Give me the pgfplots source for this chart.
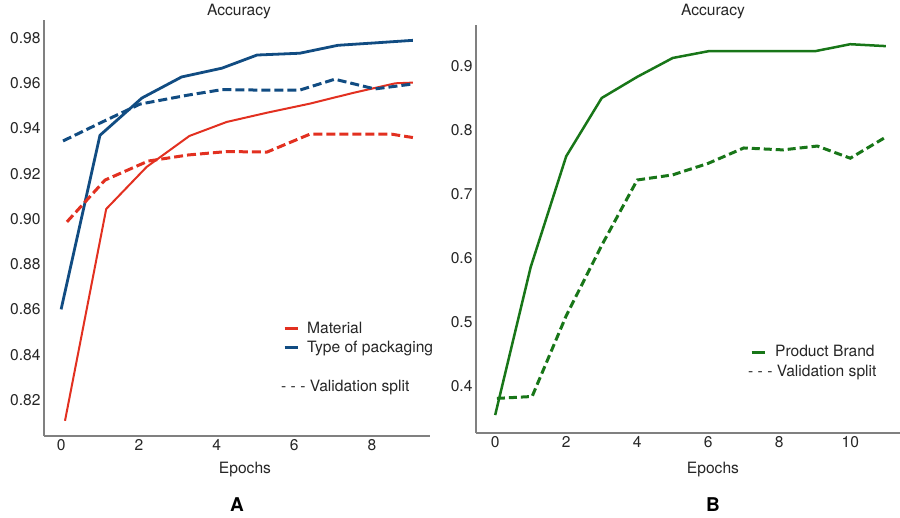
\documentclass[border=0pt]{standalone}
\usepackage{fontspec}
\setmainfont{TeX Gyre Heros}
\usepackage{pgfplots}
\pgfplotsset{compat=1.18}
\definecolor{cred}{RGB}{226,48,32}
\definecolor{cblue}{RGB}{17,76,130}
\definecolor{cgreen}{RGB}{24,118,24}
\definecolor{cax}{RGB}{128,128,128}
\newcommand{\fs}{\fontsize{15.6}{18}\selectfont}
\pgfplotsset{mystyle/.style={
  scale only axis, axis lines=left,
  axis line style={-, cax, line width=1.5pt},
  major tick length=0pt,
  tick label style={font=\fs, text=black!85},
  /pgf/number format/assume math mode=true,
  clip=false,
  legend style={draw=none, fill=none, font=\fs, inner sep=0pt, nodes={inner sep=0pt, text=black!85}, column sep=8pt, row sep=6pt},
  legend cell align=left,
  legend image code/.code={\draw[#1, line width=3pt] (0pt,0pt) -- (13pt,0pt);},
}}
\begin{document}
\begin{tikzpicture}
\path[use as bounding box] (0,0) rectangle (900pt,518pt);
% Left axis
\begin{axis}[mystyle, at={(44pt,82pt)}, anchor=south west,
  width=386pt, height=416pt,
  xmin=-0.44, xmax=9.49, ymin=0.804, ymax=0.988,
  xtick={0,2,4,6,8}, ytick={0.82,0.84,0.86,0.88,0.90,0.92,0.94,0.96,0.98},
  yticklabel style={/pgf/number format/fixed, /pgf/number format/precision=2, /pgf/number format/fixed zerofill},
  legend style={at={(axis description cs:0.619,0.2356)}, anchor=west},
]
\addplot[cred, line width=2pt] coordinates {(0.1,0.8107)(1.16,0.9044)(2.2,0.923)(3.3,0.9367)(4.26,0.9429)(5.3,0.9470)(6.4,0.951)(7.5,0.9557)(8.6,0.9600)(9.05,0.9603)};
\addlegendentry{Material}
\addplot[cblue, line width=2.8pt] coordinates {(0,0.860)(1.0,0.937)(2.08,0.9535)(3.1,0.9628)(4.14,0.9667)(5.04,0.9725)(6.14,0.9733)(7.12,0.9768)(8.1,0.9779)(9.05,0.979)};
\addlegendentry{Type of packaging}
\addplot[cred, line width=3pt, dash pattern=on 9pt off 4pt, forget plot] coordinates {(0.15,0.8987)(1.13,0.9172)(2.24,0.9256)(3.27,0.9283)(4.26,0.9298)(5.3,0.9296)(6.4,0.9375)(7.5,0.9375)(8.5,0.9375)(9.05,0.9360)};
\addplot[cblue, line width=3pt, dash pattern=on 9pt off 4pt, forget plot] coordinates {(0.05,0.9345)(1.0,0.9424)(2.03,0.9508)(3.24,0.9547)(4.14,0.9572)(5.1,0.9570)(6.14,0.9570)(7.04,0.9618)(8.07,0.9575)(9.05,0.9597)};
\end{axis}
% Right axis
\begin{axis}[mystyle, at={(476pt,85pt)}, anchor=south west,
  width=424pt, height=408pt,
  xmin=-0.54, xmax=11.4, ymin=0.327, ymax=0.964,
  xtick={0,2,4,6,8,10}, ytick={0.4,0.5,0.6,0.7,0.8,0.9},
  yticklabel style={/pgf/number format/fixed, /pgf/number format/precision=1},
  legend style={at={(axis description cs:0.646,0.1985)}, anchor=west, column sep=9pt},
]
\addplot[cgreen, line width=2.5pt] coordinates {(0,0.355)(1,0.586)(2,0.759)(3,0.85)(4,0.883)(5,0.9125)(6,0.923)(7,0.923)(8,0.923)(9,0.923)(10,0.934)(11,0.931)};
\addlegendentry{Product Brand}
\addplot[cgreen, line width=3pt, dash pattern=on 8pt off 4pt, forget plot] coordinates {(0.05,0.381)(1.04,0.384)(2,0.51)(3,0.62)(4,0.722)(5,0.73)(6,0.748)(7,0.772)(8.1,0.769)(9.07,0.775)(10,0.756)(11,0.789)};
\end{axis}
% Texts
\node[anchor=base, font=\fs, text=black!85] at (239pt,502pt) {Accuracy};
\node[anchor=base, font=\fs, text=black!85] at (713pt,502pt) {Accuracy};
\node[anchor=base, font=\fs, text=black!85] at (245pt,44pt) {Epochs};
\node[anchor=base, font=\fs, text=black!85] at (713pt,44pt) {Epochs};
\node[anchor=base, font=\fontsize{19}{22}\selectfont\bfseries] at (237pt,6pt) {A};
\node[anchor=base, font=\fontsize{19}{22}\selectfont\bfseries] at (713pt,6pt) {B};
\node[anchor=west, font=\fs, text=black!85, inner sep=0pt] at (281pt,130pt) {- - - Validation split};
\node[anchor=west, font=\fs, text=black!85, inner sep=0pt] at (748pt,145pt) {- - - Validation split};
\end{tikzpicture}
\end{document}
